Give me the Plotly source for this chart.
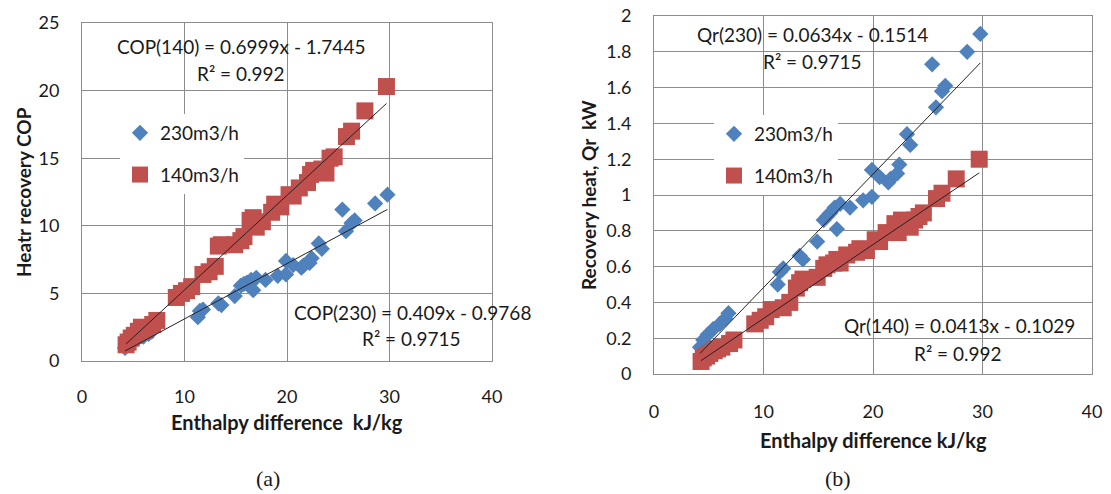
import plotly.graph_objects as go

W, H = 1111, 494

# ---------------- data ----------------
x_140 = [4.3, 4.5, 4.8, 5.1, 5.5, 5.8, 6.2, 6.9, 7.3, 9.2, 9.7, 10.2, 10.7, 11.8, 12.4, 13.0,
         13.3, 13.6, 14.9, 15.5, 15.8, 16.4, 16.7, 17.0, 17.6, 18.5, 18.8, 19.4, 20.2, 20.6,
         21.2, 22.0, 22.3, 22.6, 23.4, 23.8, 24.2, 24.6, 25.8, 26.3, 27.6, 29.7]
cop_140 = [1.2, 1.4, 1.7, 1.9, 2.2, 2.5, 2.3, 2.7, 3.0, 4.7, 5.0, 5.2, 5.5, 6.4, 6.6, 7.0,
           8.5, 8.6, 8.6, 8.9, 9.2, 10.4, 10.6, 9.9, 10.3, 11.0, 11.6, 11.4, 12.3, 12.2,
           12.8, 13.2, 13.8, 14.1, 14.2, 13.9, 15.0, 15.1, 16.6, 17.0, 18.5, 20.3]
qr_140 = [0.07, 0.09, 0.10, 0.115, 0.13, 0.14, 0.15, 0.17, 0.19, 0.28, 0.30, 0.32, 0.36, 0.37, 0.40, 0.48,
          0.51, 0.53, 0.54, 0.59, 0.61, 0.62, 0.64, 0.62, 0.665, 0.68, 0.70, 0.69, 0.75, 0.74,
          0.79, 0.84, 0.79, 0.86, 0.82, 0.86, 0.88, 0.90, 0.98, 1.01, 1.09, 1.20]

x_230 = [4.2, 4.5, 4.9, 5.4, 6.0, 6.5, 6.8, 11.3, 11.5, 11.8, 13.3, 13.6, 14.9, 15.5, 15.8, 16.1,
         16.5, 16.7, 17.0, 17.9, 19.1, 19.9, 19.9, 20.6, 21.4, 21.6, 22.2, 22.4, 23.1, 23.4,
         25.4, 25.75, 26.3, 26.6, 28.6, 29.8]
cop_230 = [0.97, 1.23, 1.42, 1.62, 1.81, 2.0, 2.2, 3.24, 3.7, 3.8, 4.27, 4.14, 4.8, 5.57, 5.7, 5.8,
           6.0, 5.24, 6.15, 6.0, 6.3, 6.4, 7.4, 7.1, 6.9, 7.05, 7.25, 7.6, 8.7, 8.3,
           11.2, 9.6, 10.2, 10.4, 11.65, 12.3]
qr_230 = [0.15, 0.19, 0.22, 0.25, 0.28, 0.31, 0.34, 0.50, 0.57, 0.59, 0.66, 0.64, 0.74, 0.86, 0.88, 0.90,
          0.93, 0.81, 0.95, 0.93, 0.97, 0.99, 1.14, 1.10, 1.07, 1.09, 1.12, 1.17, 1.34, 1.28,
          1.73, 1.49, 1.58, 1.61, 1.80, 1.90]

# trendline coefficients (slope, intercept) as printed on the chart
fit_cop_140 = (0.6999, -1.7445)
fit_cop_230 = (0.409, -0.9768)
fit_qr_230 = (0.0634, -0.1514)
fit_qr_140 = (0.0413, -0.1029)

series_names = ["230m3/h", "140m3/h"]
x_ticks = [0, 10, 20, 30, 40]

# ---------------- style ----------------
BLUE = "#4F81BD"
RED = "#C0504D"
GRID = "#8C8C8C"
FONT = "Lato"
TXT = "#1a1a1a"


def px2x(px):
    return px / W


def px2y(py):
    return 1 - py / H


def trend(xs, fit):
    lo, hi = min(xs), max(xs)
    return [lo, hi], [fit[0] * lo + fit[1], fit[0] * hi + fit[1]]


fig = go.Figure()

# ---- panel (a) ----
fig.add_trace(go.Scatter(x=x_230, y=cop_230, mode="markers", name=series_names[0],
                         marker=dict(symbol="diamond", size=12.5, color=BLUE),
                         xaxis="x", yaxis="y", legend="legend", legendgroup="a1"))
fig.add_trace(go.Scatter(x=x_140, y=cop_140, mode="markers", name=series_names[1],
                         marker=dict(symbol="square", size=17, color=RED),
                         xaxis="x", yaxis="y", legend="legend", legendgroup="a2"))
tx, ty = trend(x_140, fit_cop_140)
fig.add_trace(go.Scatter(x=tx, y=ty, mode="lines", line=dict(color="#222", width=1),
                         showlegend=False, xaxis="x", yaxis="y", hoverinfo="skip"))
tx, ty = trend(x_230, fit_cop_230)
fig.add_trace(go.Scatter(x=tx, y=ty, mode="lines", line=dict(color="#222", width=1),
                         showlegend=False, xaxis="x", yaxis="y", hoverinfo="skip"))

# ---- panel (b) ----
fig.add_trace(go.Scatter(x=x_230, y=qr_230, mode="markers", name=series_names[0],
                         marker=dict(symbol="diamond", size=12.5, color=BLUE),
                         xaxis="x2", yaxis="y2", legend="legend2", legendgroup="b1"))
fig.add_trace(go.Scatter(x=x_140, y=qr_140, mode="markers", name=series_names[1],
                         marker=dict(symbol="square", size=17, color=RED),
                         xaxis="x2", yaxis="y2", legend="legend2", legendgroup="b2"))
tx, ty = trend(x_230, fit_qr_230)
fig.add_trace(go.Scatter(x=tx, y=ty, mode="lines", line=dict(color="#222", width=1),
                         showlegend=False, xaxis="x2", yaxis="y2", hoverinfo="skip"))
tx, ty = trend(x_140, fit_qr_140)
fig.add_trace(go.Scatter(x=tx, y=ty, mode="lines", line=dict(color="#222", width=1),
                         showlegend=False, xaxis="x2", yaxis="y2", hoverinfo="skip"))

axis_common = dict(showgrid=True, gridcolor=GRID, gridwidth=1, showline=True, mirror=True,
                   linecolor=GRID, linewidth=1, zeroline=False, ticks="", automargin=False,
                   tickfont=dict(family=FONT, size=18, color=TXT))

fig.update_layout(
    width=W, height=H,
    margin=dict(l=0, r=0, t=0, b=0, autoexpand=False),
    paper_bgcolor="white", plot_bgcolor="white",
    font=dict(family=FONT, color=TXT),
    xaxis=dict(domain=[px2x(82), px2x(492)], range=[0, 40], tickvals=x_ticks,
               anchor="y", ticklabelstandoff=19, **axis_common),
    yaxis=dict(domain=[px2y(361), px2y(23)], range=[0, 25], dtick=5,
               anchor="x", ticklabelstandoff=18, **axis_common),
    xaxis2=dict(domain=[px2x(654), px2x(1092)], range=[0, 40], tickvals=x_ticks,
                anchor="y2", ticklabelstandoff=21, **axis_common),
    yaxis2=dict(domain=[px2y(374), px2y(16)], range=[0, 2], dtick=0.2,
                anchor="x2", ticklabelstandoff=18, **axis_common),
    legend=dict(x=px2x(120), y=px2y(114), xanchor="left", yanchor="top",
                bgcolor="white", borderwidth=0, traceorder="grouped", tracegroupgap=14,
                font=dict(family=FONT, size=19, color=TXT), itemsizing="trace"),
    legend2=dict(x=px2x(714), y=px2y(115), xanchor="left", yanchor="top",
                 bgcolor="white", borderwidth=0, traceorder="grouped", tracegroupgap=14,
                 font=dict(family=FONT, size=19, color=TXT), itemsizing="trace"),
    showlegend=True,
)

ann = []


def txt(x, y, s, size=19, bold=False, angle=0, family=FONT):
    ann.append(dict(x=px2x(x), y=px2y(y), xref="paper", yref="paper", text=s, showarrow=False,
                    xanchor="center", yanchor="middle", textangle=angle,
                    font=dict(family=family, size=size, color=TXT,
                              weight="bold" if bold else "normal")))


# trendline equations
txt(241, 47, "COP(140) = 0.6999x - 1.7445")
txt(241, 73, "R² = 0.992")
txt(412, 312, "COP(230) = 0.409x - 0.9768")
txt(411, 338, "R² = 0.9715")
txt(812, 35, "Qr(230) = 0.0634x - 0.1514")
txt(812, 62, "R² = 0.9715")
txt(959, 325, "Qr(140) = 0.0413x - 0.1029")
txt(958, 353, "R² = 0.992")

# axis titles
txt(287, 422, "Enthalpy difference  kJ/kg", size=20, bold=True)
txt(23, 192, "Heatr recovery COP", size=19, bold=True, angle=-90)
txt(873, 440, "Enthalpy difference kJ/kg", size=20, bold=True)
txt(588, 195, "Recovery heat, Qr  kW", size=19, bold=True, angle=-90)

# captions
txt(268, 478, "(a)", size=22, family="Liberation Serif")
txt(838, 478, "(b)", size=22, family="Liberation Serif")

fig.update_layout(annotations=ann)

fig.write_html(
    "out.html",
    config={"displayModeBar": False},
    post_script="document.body.style.margin='0px';document.body.style.overflow='hidden';",
)
